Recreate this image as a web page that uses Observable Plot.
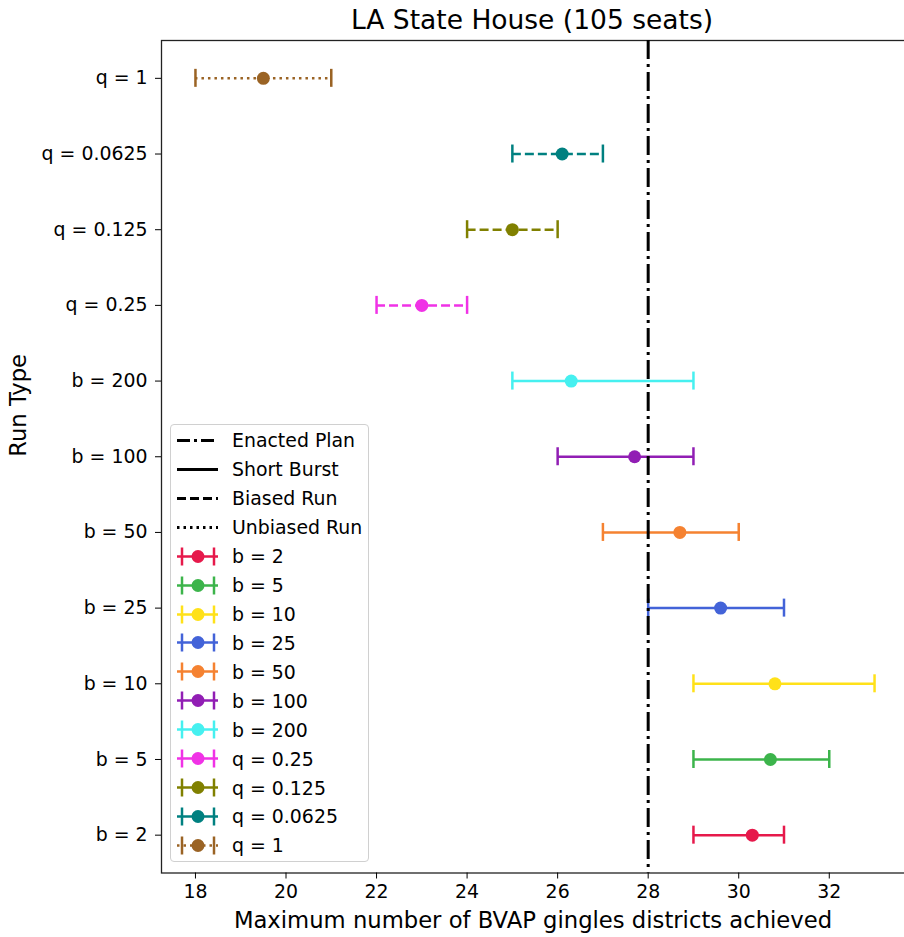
<!DOCTYPE html>
<html>
<head>
<meta charset="utf-8">
<script src="https://cdn.jsdelivr.net/npm/d3@7"></script>
<script src="https://cdn.jsdelivr.net/npm/@observablehq/plot@0.6"></script>
<style>
  body { margin: 0; background: #fff; font-family: "DejaVu Sans", sans-serif; }
  #wrap { position: relative; width: 904px; height: 937px; overflow: hidden; background: #fff; }
  #title { position: absolute; left: 160px; top: 0; width: 744px; height: 40px; line-height: 40px;
           text-align: center; font-size: 26.5px; color: #000; }
  #chart { position: absolute; left: 0; top: 39px; width: 908px; }
  #chart svg { max-width: none !important; }
  #legend { position: absolute; left: 170px; top: 424px; width: 199px; height: 438px; box-sizing: border-box;
            border: 1px solid #d0d0d0; border-radius: 4px; background: rgba(255,255,255,0.85); padding-top: 1px; }
  .row { display: flex; align-items: center; height: 28.93px; }
  .row svg { flex: none; }
  .row span { font-size: 18.9px; color: #000; margin-left: 11px; white-space: nowrap; }
</style>
</head>
<body>
<div id="wrap">
  <div id="title">LA State House (105 seats)</div>
  <div id="chart"></div>
  <div id="legend"></div>
</div>
<script>
// ---- data ----
const runTypes = ["b = 2", "b = 5", "b = 10", "b = 25", "b = 50", "b = 100", "b = 200",
                  "q = 0.25", "q = 0.125", "q = 0.0625", "q = 1"];
const means = [30.3, 30.7, 30.8, 29.6, 28.7, 27.7, 26.3, 23.0, 25.0, 26.1, 19.5];
const mins  = [29, 29, 29, 28, 27, 26, 25, 22, 24, 25, 18];
const maxs  = [31, 32, 33, 31, 30, 29, 29, 24, 26, 27, 21];
const colors = ["#e6194b", "#3cb44b", "#ffe119", "#4363d8", "#f58231", "#911eb4", "#46f0f0",
                "#f032e6", "#808000", "#008080", "#9a6324"];
const runStyles = ["Short Burst", "Short Burst", "Short Burst", "Short Burst", "Short Burst", "Short Burst", "Short Burst",
                   "Biased Run", "Biased Run", "Biased Run", "Unbiased Run"];
const enactedValue = 28;
const xTicks = [18, 20, 22, 24, 26, 28, 30, 32];
const xDomain = [17.25, 33.75];
const styleNames = ["Enacted Plan", "Short Burst", "Biased Run", "Unbiased Run"];
const titleText = "LA State House (105 seats)";
const xLabel = "Maximum number of BVAP gingles districts achieved";
const yLabel = "Run Type";

// ---- build table ----
const data = runTypes.map((r, i) => ({run: r, mean: means[i], min: mins[i], max: maxs[i], color: colors[i], style: runStyles[i]}));
const dashFor = {"Enacted Plan": "19,5,3,5", "Short Burst": null, "Biased Run": "9,4", "Unbiased Run": "2.5,4"};

const plotH = 832.5, nBands = runTypes.length;
const bw = plotH / nBands;
const capH = 18;
const capInset = (bw - capH) / 2;

const barMarks = [];
for (const s of ["Short Burst", "Biased Run", "Unbiased Run"]) {
  const sub = data.filter(d => d.style === s);
  const opts = {y: "run", x1: "min", x2: "max", stroke: "color", strokeWidth: 2.5};
  if (dashFor[s]) opts.strokeDasharray = dashFor[s];
  barMarks.push(Plot.ruleY(sub, opts));
}

const chart = Plot.plot({
  width: 908,
  height: 898,
  marginTop: 1,
  marginBottom: 64.5,
  marginLeft: 161,
  marginRight: 0,
  style: {fontFamily: "DejaVu Sans, sans-serif", fontSize: "18.9px", color: "#000", background: "transparent", maxWidth: "none"},
  x: {domain: xDomain},
  y: {type: "band", domain: runTypes.slice().reverse(), padding: 0, round: false},
  color: {type: "identity"},
  marks: [
    Plot.frame({stroke: "#222", strokeWidth: 1.3}),
    ...barMarks,
    Plot.tickX(data, {x: "min", y: "run", stroke: "color", strokeWidth: 2.5, insetTop: capInset, insetBottom: capInset}),
    Plot.tickX(data, {x: "max", y: "run", stroke: "color", strokeWidth: 2.5, insetTop: capInset, insetBottom: capInset}),
    Plot.dot(data, {x: "mean", y: "run", fill: "color", r: 6.5}),
    Plot.ruleX([enactedValue], {stroke: "#000", strokeWidth: 3, strokeDasharray: dashFor["Enacted Plan"]}),
    Plot.axisX({ticks: xTicks, tickSize: 6, tickPadding: 6, fontSize: 18.9, label: null, tickFormat: d => String(d)}),
    Plot.axisY({tickSize: 6, tickPadding: 8, fontSize: 18.9, label: null}),
    Plot.text([xLabel], {frameAnchor: "bottom", dx: -2, dy: 48, fontSize: 22.7, lineAnchor: "middle", text: d => d}),
    Plot.text([yLabel], {frameAnchor: "left", dx: -143, rotate: -90, fontSize: 22.7, lineAnchor: "middle", text: d => d})
  ]
});
document.getElementById("chart").appendChild(chart);

// ---- legend ----
const legend = document.getElementById("legend");
function row(svgInner, label) {
  const div = document.createElement("div");
  div.className = "row";
  div.innerHTML = `<svg width="50" height="29" viewBox="0 0 50 29">${svgInner}</svg><span>${label}</span>`;
  legend.appendChild(div);
}
for (const s of styleNames) {
  const dash = dashFor[s] ? `stroke-dasharray="${s === 'Enacted Plan' ? '13,4,3,4' : dashFor[s]}"` : "";
  row(`<line x1="6" x2="47" y1="14.5" y2="14.5" stroke="#000" stroke-width="3" ${dash}/>`, s);
}
data.forEach(d => {
  const dash = d.style === "Unbiased Run" ? `stroke-dasharray="2.5,4"` : "";
  row(`<line x1="6" x2="47" y1="14.5" y2="14.5" stroke="${d.color}" stroke-width="2.5" ${dash}/>` +
      `<line x1="11" x2="11" y1="5.5" y2="23.5" stroke="${d.color}" stroke-width="2.5"/>` +
      `<line x1="43" x2="43" y1="5.5" y2="23.5" stroke="${d.color}" stroke-width="2.5"/>` +
      `<circle cx="27" cy="14.5" r="6.5" fill="${d.color}"/>`, d.run);
});
</script>
</body>
</html>
